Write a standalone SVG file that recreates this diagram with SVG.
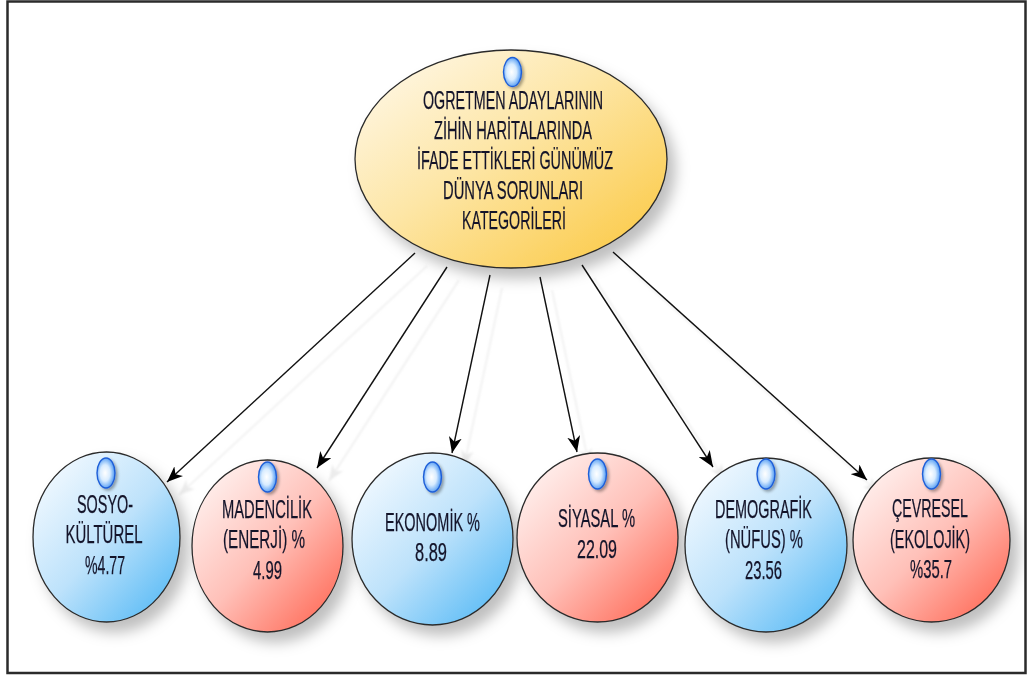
<svg xmlns="http://www.w3.org/2000/svg" width="1027" height="677" viewBox="0 0 1027 677">
  <style>
    .frame { fill: #ffffff; stroke: #2b2b2b; stroke-width: 2.5; }
    .node { stroke: #2a2a2a; stroke-width: 1.3; }
    .label { font-family: "Liberation Sans", Arial, sans-serif; font-size: 25px; fill: #14142a; stroke: #14142a; stroke-width: 0.25; text-anchor: middle; }
    .edge { stroke: #111111; stroke-width: 1.4; fill: none; marker-end: url(#arrow); }
    .edge-shadow { stroke: #d6d6d6; stroke-width: 1.4; fill: none; marker-end: url(#arrow-shadow); opacity: 0.45; }
    .knob { fill: url(#knobFill); stroke: #1f5fd8; stroke-width: 1.4; }
  </style>
  <defs>
    <linearGradient id="gYellow" x1="0" y1="0" x2="1" y2="1">
      <stop offset="0" stop-color="#fffaf0"/>
      <stop offset="0.45" stop-color="#fde6a6"/>
      <stop offset="1" stop-color="#fbc63a"/>
    </linearGradient>
    <linearGradient id="gBlue" x1="0.1" y1="0.05" x2="0.95" y2="0.95">
      <stop offset="0" stop-color="#f4faff"/>
      <stop offset="0.5" stop-color="#bde2fb"/>
      <stop offset="1" stop-color="#52b8f5"/>
    </linearGradient>
    <linearGradient id="gRed" x1="0.1" y1="0.05" x2="0.95" y2="0.95">
      <stop offset="0" stop-color="#fff3f1"/>
      <stop offset="0.5" stop-color="#ffc0b8"/>
      <stop offset="1" stop-color="#ff6652"/>
    </linearGradient>
    <radialGradient id="knobFill" cx="0.45" cy="0.5" r="0.6">
      <stop offset="0" stop-color="#ffffff"/>
      <stop offset="0.45" stop-color="#d8ecff"/>
      <stop offset="1" stop-color="#2f86f0"/>
    </radialGradient>
    <filter id="softShadow" x="-30%" y="-30%" width="160%" height="160%">
      <feDropShadow dx="8" dy="10" stdDeviation="7" flood-color="#000000" flood-opacity="0.25"/>
    </filter>
    <filter id="knobShadow" x="-60%" y="-60%" width="220%" height="220%">
      <feDropShadow dx="2" dy="2" stdDeviation="1.5" flood-color="#000000" flood-opacity="0.35"/>
    </filter>
    <filter id="lineBlur" x="-10%" y="-10%" width="120%" height="120%">
      <feGaussianBlur stdDeviation="0.8"/>
    </filter>
    <marker id="arrow" viewBox="0 0 16 13" refX="16" refY="6.5" markerWidth="16" markerHeight="13" markerUnits="userSpaceOnUse" orient="auto">
      <path d="M0,0 L16,6.5 L0,13 L4.5,6.5 z" fill="#000000"/>
    </marker>
    <marker id="arrow-shadow" viewBox="0 0 16 13" refX="16" refY="6.5" markerWidth="16" markerHeight="13" markerUnits="userSpaceOnUse" orient="auto">
      <path d="M0,0 L16,6.5 L0,13 L4.5,6.5 z" fill="#d6d6d6"/>
    </marker>
  </defs>

  <rect class="frame" x="7.5" y="1.5" width="1018" height="671.5"/>

  <!-- faint connector shadows -->
  <g id="connector-shadows" transform="translate(12,13)" filter="url(#lineBlur)">
    <line class="edge-shadow" x1="415" y1="253" x2="167" y2="482"/>
    <line class="edge-shadow" x1="447" y1="267" x2="317" y2="468"/>
    <line class="edge-shadow" x1="490" y1="275" x2="452" y2="453"/>
    <line class="edge-shadow" x1="540" y1="277" x2="577" y2="452"/>
    <line class="edge-shadow" x1="582" y1="265" x2="713" y2="467"/>
    <line class="edge-shadow" x1="613" y1="252" x2="867" y2="480"/>
  </g>

  <!-- connectors from the central topic to each category -->
  <g id="connectors">
    <line class="edge" x1="415" y1="253" x2="167" y2="482"/>
    <line class="edge" x1="447" y1="267" x2="317" y2="468"/>
    <line class="edge" x1="490" y1="275" x2="452" y2="453"/>
    <line class="edge" x1="540" y1="277" x2="577" y2="452"/>
    <line class="edge" x1="582" y1="265" x2="713" y2="467"/>
    <line class="edge" x1="613" y1="252" x2="867" y2="480"/>
  </g>

  <!-- central topic -->
  <g id="node-root">
    <ellipse class="node" cx="511" cy="159" rx="156" ry="109" fill="url(#gYellow)" filter="url(#softShadow)"/>
    <ellipse class="knob" cx="512.5" cy="72" rx="9" ry="14.5" filter="url(#knobShadow)"/>
    <text class="label" x="513" y="109" textLength="180" lengthAdjust="spacingAndGlyphs">OGRETMEN ADAYLARININ</text>
    <text class="label" x="513" y="139" textLength="158" lengthAdjust="spacingAndGlyphs">ZİHİN HARİTALARINDA</text>
    <text class="label" x="515" y="169" textLength="196" lengthAdjust="spacingAndGlyphs">İFADE ETTİKLERİ GÜNÜMÜZ</text>
    <text class="label" x="513" y="199" textLength="140" lengthAdjust="spacingAndGlyphs">DÜNYA SORUNLARI</text>
    <text class="label" x="514" y="229" textLength="104" lengthAdjust="spacingAndGlyphs">KATEGORİLERİ</text>
  </g>

  <!-- category nodes -->
  <g id="node-sosyo">
    <ellipse class="node" cx="106.5" cy="537" rx="73.5" ry="85" fill="url(#gBlue)" filter="url(#softShadow)"/>
    <ellipse class="knob" cx="106" cy="473" rx="9" ry="15" filter="url(#knobShadow)"/>
    <text class="label" x="105" y="513" textLength="56" lengthAdjust="spacingAndGlyphs">SOSYO-</text>
    <text class="label" x="104" y="543" textLength="77" lengthAdjust="spacingAndGlyphs">KÜLTÜREL</text>
    <text class="label" x="105" y="574" textLength="40" lengthAdjust="spacingAndGlyphs">%4.77</text>
  </g>

  <g id="node-madencilik">
    <ellipse class="node" cx="267.5" cy="546" rx="75.5" ry="86" fill="url(#gRed)" filter="url(#softShadow)"/>
    <ellipse class="knob" cx="267.5" cy="477" rx="9" ry="15" filter="url(#knobShadow)"/>
    <text class="label" x="267" y="518" textLength="90" lengthAdjust="spacingAndGlyphs">MADENCİLİK</text>
    <text class="label" x="264" y="548" textLength="82" lengthAdjust="spacingAndGlyphs">(ENERJİ) %</text>
    <text class="label" x="267.5" y="579" textLength="29" lengthAdjust="spacingAndGlyphs">4.99</text>
  </g>

  <g id="node-ekonomik">
    <ellipse class="node" cx="432.5" cy="539" rx="80.5" ry="86" fill="url(#gBlue)" filter="url(#softShadow)"/>
    <ellipse class="knob" cx="432.5" cy="477" rx="9" ry="15" filter="url(#knobShadow)"/>
    <text class="label" x="432.5" y="531" textLength="95" lengthAdjust="spacingAndGlyphs">EKONOMİK %</text>
    <text class="label" x="431" y="561" textLength="32" lengthAdjust="spacingAndGlyphs">8.89</text>
  </g>

  <g id="node-siyasal">
    <ellipse class="node" cx="597.5" cy="537.5" rx="80.5" ry="84.5" fill="url(#gRed)" filter="url(#softShadow)"/>
    <ellipse class="knob" cx="597.5" cy="474" rx="9" ry="15" filter="url(#knobShadow)"/>
    <text class="label" x="596.5" y="527" textLength="77" lengthAdjust="spacingAndGlyphs">SİYASAL %</text>
    <text class="label" x="597" y="558" textLength="40" lengthAdjust="spacingAndGlyphs">22.09</text>
  </g>

  <g id="node-demografik">
    <ellipse class="node" cx="766" cy="545" rx="81" ry="87" fill="url(#gBlue)" filter="url(#softShadow)"/>
    <ellipse class="knob" cx="766" cy="474" rx="9" ry="15" filter="url(#knobShadow)"/>
    <text class="label" x="763.5" y="518" textLength="97" lengthAdjust="spacingAndGlyphs">DEMOGRAFİK</text>
    <text class="label" x="764" y="548" textLength="78" lengthAdjust="spacingAndGlyphs">(NÜFUS) %</text>
    <text class="label" x="763.5" y="579" textLength="37" lengthAdjust="spacingAndGlyphs">23.56</text>
  </g>

  <g id="node-cevresel">
    <ellipse class="node" cx="931.5" cy="540" rx="78.5" ry="82" fill="url(#gRed)" filter="url(#softShadow)"/>
    <ellipse class="knob" cx="931.5" cy="474" rx="9" ry="15" filter="url(#knobShadow)"/>
    <text class="label" x="930" y="517" textLength="76" lengthAdjust="spacingAndGlyphs">ÇEVRESEL</text>
    <text class="label" x="930" y="548" textLength="80" lengthAdjust="spacingAndGlyphs">(EKOLOJİK)</text>
    <text class="label" x="931" y="578" textLength="42" lengthAdjust="spacingAndGlyphs">%35.7</text>
  </g>
</svg>
